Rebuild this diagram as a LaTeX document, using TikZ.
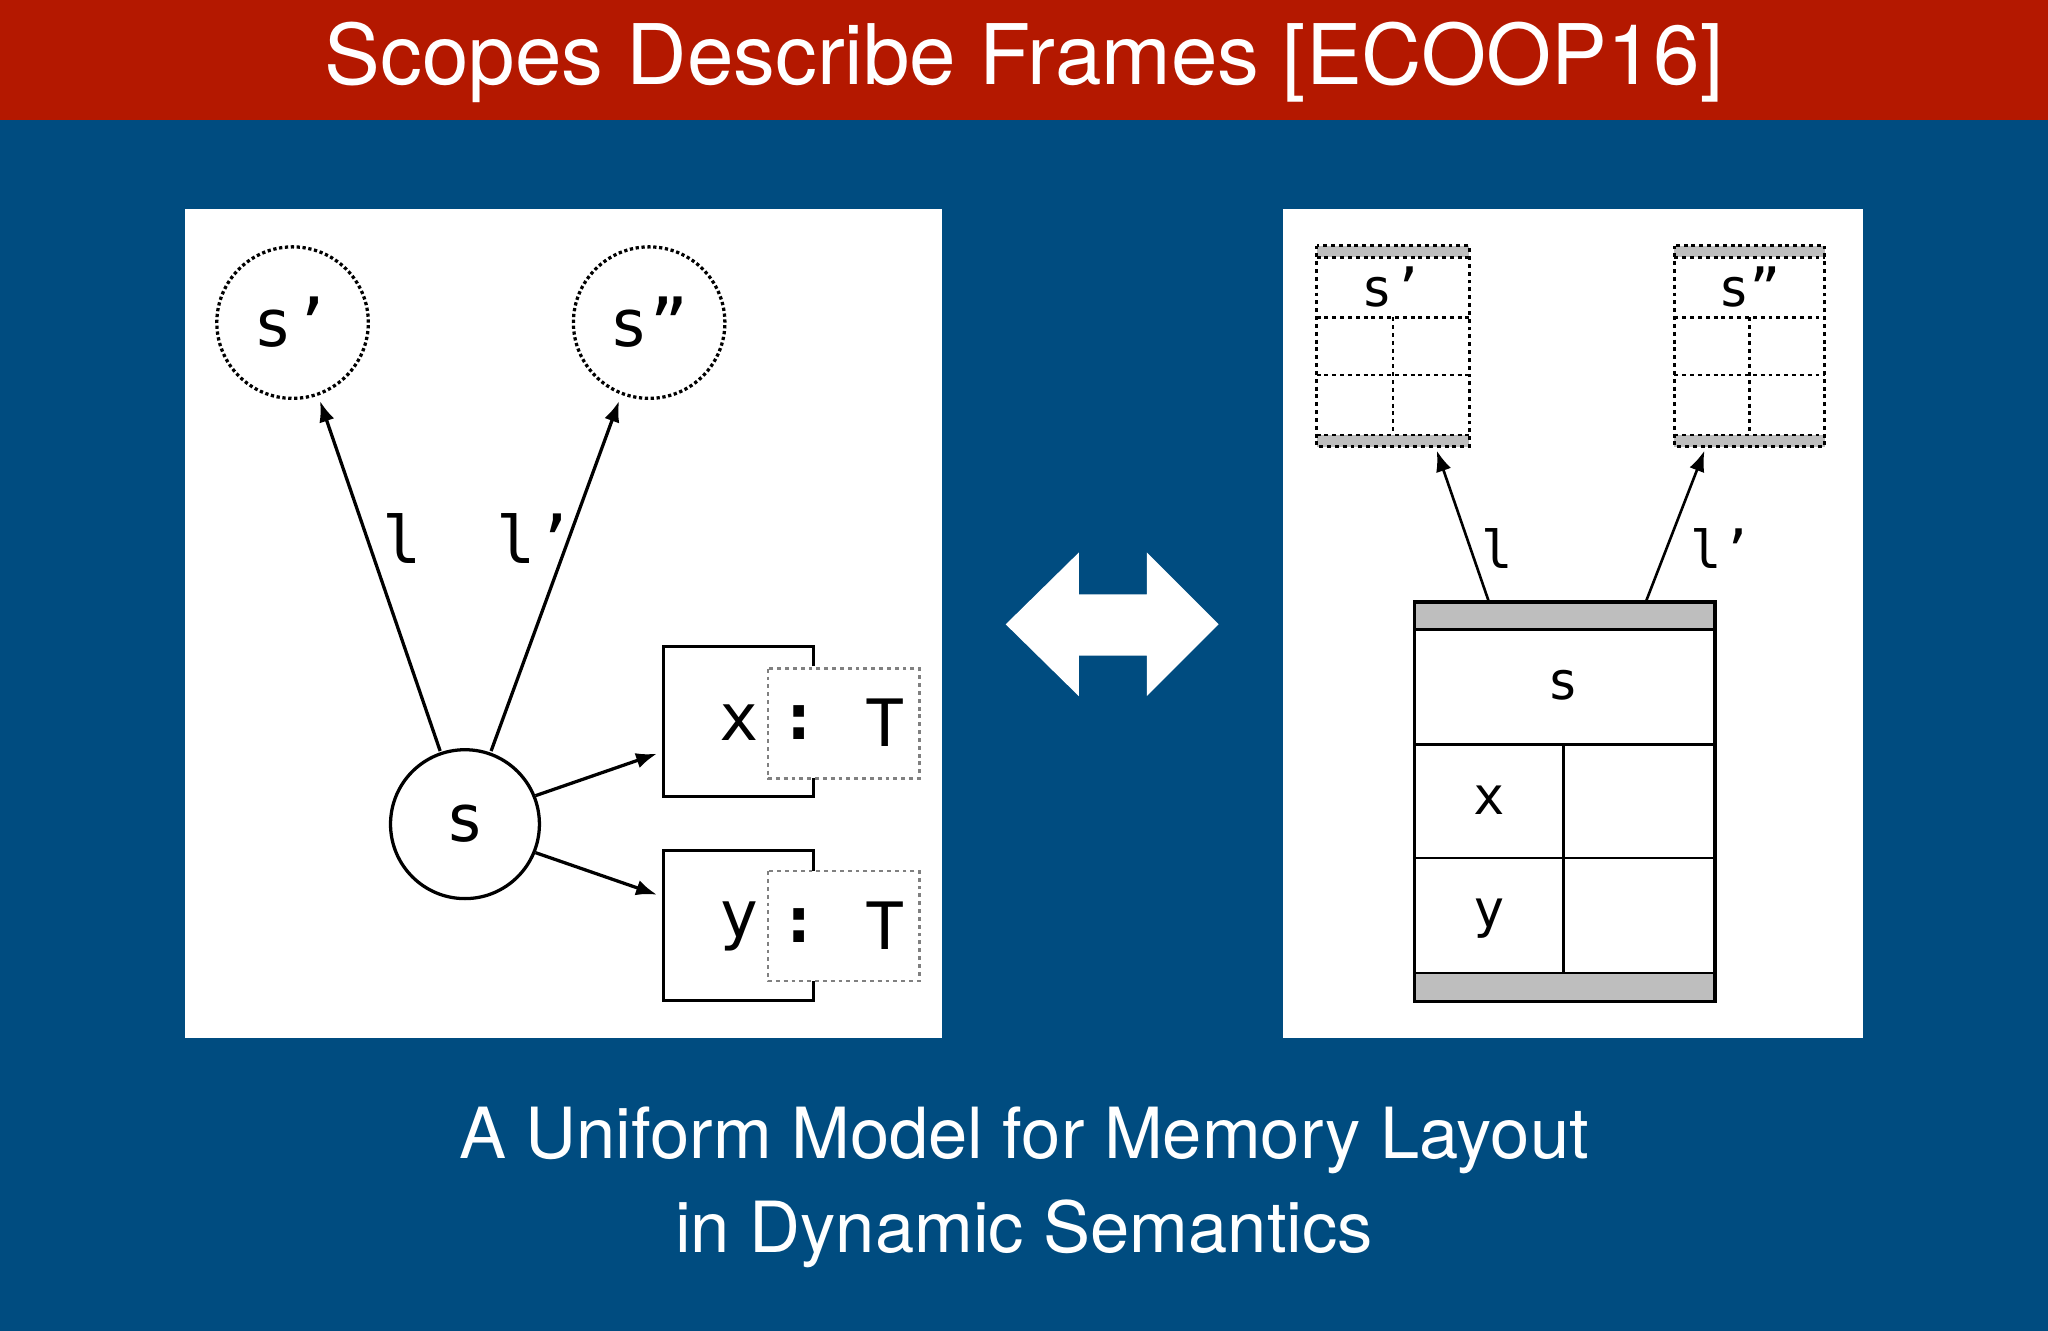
\documentclass[tikz,border=0pt]{standalone}
\usepackage{fontspec}
\setmainfont{TeX Gyre Heros}
\newfontfamily\mono{DejaVu Sans Mono}
\definecolor{bandred}{RGB}{180,24,0}
\definecolor{bgblue}{RGB}{0,76,128}
\definecolor{barg}{RGB}{190,190,190}
\begin{document}
\begin{tikzpicture}[x=1pt,y=-1pt,
  lbl/.style={font=\mono\fontsize{50}{50}\selectfont},
  rlbl/.style={font=\mono\fontsize{40}{40}\selectfont},
  arr/.style={line width=2.5pt,-{Latex[length=16pt,width=12pt]}},
  dcirc/.style={circle,draw,dotted,line width=2.5pt,minimum size=116pt,inner sep=0pt},
  gdash/.style={draw=gray,dashed,line width=2pt}]
\usetikzlibrary{arrows.meta}
\fill[bgblue] (0,0) rectangle (1568,1019);
\fill[bandred] (0,0) rectangle (1568,92);
\useasboundingbox (0,0) rectangle (1568,1019);
\node[text=white,font=\fontsize{64}{64}\selectfont] (title) at (784,48) {Scopes Describe Frames [ECOOP16]};
% left panel
\fill[white] (142,160) rectangle (721,795);
\node[dcirc,lbl] (s1) at (224,247) {s’};
\node[dcirc,lbl] (s2) at (497,247) {s”};
\node[circle,draw,line width=2.5pt,minimum size=114pt,inner sep=0pt,lbl] (s) at (356,631) {s};
\coordinate (a1) at (337,575); \coordinate (a2) at (376,575);
\draw[arr] (a1) -- (245,307);
\draw[arr] (a2) -- (474,307);
\node[lbl] (l1) at (308,412) {l};
\node[lbl] (l2) at (410,412) {l’};
\draw[line width=2.5pt] (623,510) -- (623,495) -- (508,495) -- (508,610) -- (623,610) -- (623,596);
\draw[gdash] (588,512) rectangle (704,596);
\node[lbl] (x) at (566,553) {x};
\node[lbl] (c1) at (612,553) {\textbf{:}};
\node[lbl] (t1) at (678,553) {T};
\draw[line width=2.5pt] (623,667) -- (623,651) -- (508,651) -- (508,766) -- (623,766) -- (623,751);
\draw[gdash] (588,667) rectangle (704,751);
\node[lbl] (y) at (566,709) {y};
\node[lbl] (c2) at (612,709) {\textbf{:}};
\node[lbl] (t2) at (678,709) {T};
\draw[arr] (s.22) -- (503,577);
\draw[arr] (s.-22) -- (503,685);
% double arrow
\fill[white] (770,478) -- (826,423) -- (826,455) -- (878,455) -- (878,423) -- (933,478) -- (878,533) -- (878,502) -- (826,502) -- (826,533) -- cycle;
% right panel
\fill[white] (982,160) rectangle (1426,795);
\fill[barg] (1083,461) rectangle (1313,482);
\fill[barg] (1083,745) rectangle (1313,767);
\draw[line width=2.5pt] (1083,461) rectangle (1313,767);
\draw[line width=2pt] (1083,482) -- (1313,482) (1083,745) -- (1313,745) (1083,570) -- (1313,570) (1083,657) -- (1313,657) (1197,570) -- (1197,745);
\node[rlbl] (fs) at (1197,525) {s};
\node[rlbl] (fx) at (1140,613) {x};
\node[rlbl] (fy) at (1140,703) {y};
\foreach \xa/\xb/\t/\n in {1008/1125/s’/p1,1282/1397/s”/p2}{
  \fill[barg] (\xa,188) rectangle (\xb,197);
  \fill[barg] (\xa,333) rectangle (\xb,342);
  \draw[dashed,line width=2pt] (\xa,188) rectangle (\xb,342);
  \draw[dashed,line width=2pt] (\xa,197) -- (\xb,197) (\xa,333) -- (\xb,333) (\xa,243) -- (\xb,243) (\xa,287) -- (\xb,287);
  \draw[dashed,line width=2pt] ({(\xa+\xb)/2},243) -- ({(\xa+\xb)/2},333);
  \node[rlbl] (\n) at ({(\xa+\xb)/2},220) {\t};
}
\draw[arr,line width=2pt] (1140,461) -- (1100,345);
\draw[arr,line width=2pt] (1260,461) -- (1305,345);
\node[rlbl] (rl1) at (1146,420) {l};
\node[rlbl] (rl2) at (1318,420) {l’};
\node[text=white,font=\fontsize{54}{54}\selectfont,align=center] (sub1) at (784,873) {A Uniform Model for Memory Layout};
\node[text=white,font=\fontsize{54}{54}\selectfont] (sub2) at (784,945) {in Dynamic Semantics};
\end{tikzpicture}
\end{document}
